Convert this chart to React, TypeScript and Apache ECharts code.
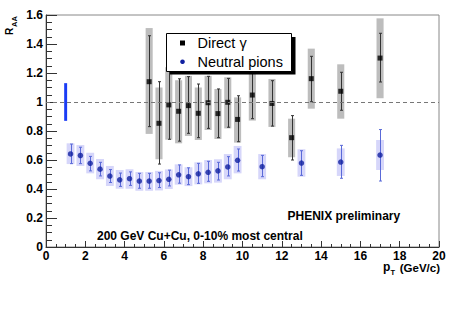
import React, { useEffect, useRef } from "react";
import * as echarts from "echarts";

// ---- Data ----
const gammaPt = [5.25, 5.75, 6.25, 6.75, 7.25, 7.75, 8.25, 8.75, 9.25, 9.75, 10.5, 11.5, 12.5, 13.5, 15, 17];
const gammaR = [1.14, 0.853, 0.98, 0.936, 0.975, 0.922, 0.995, 0.92, 0.998, 0.88, 1.048, 0.99, 0.754, 1.161, 1.074, 1.303];
const gammaStatLo = [0.83, 0.572, 0.743, 0.73, 0.784, 0.754, 0.818, 0.754, 0.826, 0.726, 0.885, 0.834, 0.6, 1.002, 0.943, 1.138];
const gammaStatHi = [1.457, 1.14, 1.22, 1.16, 1.175, 1.124, 1.177, 1.09, 1.163, 1.043, 1.21, 1.147, 0.906, 1.315, 1.205, 1.474];
const gammaSysLo = [0.78, 0.605, 0.74, 0.715, 0.766, 0.738, 0.807, 0.745, 0.818, 0.72, 0.872, 0.828, 0.619, 0.954, 0.885, 1.026];
const gammaSysHi = [1.51, 1.1, 1.24, 1.15, 1.18, 1.1, 1.18, 1.09, 1.17, 1.032, 1.225, 1.159, 0.885, 1.368, 1.26, 1.577];

const piPt = [1.25, 1.75, 2.25, 2.75, 3.25, 3.75, 4.25, 4.75, 5.25, 5.75, 6.25, 6.75, 7.25, 7.75, 8.25, 8.75, 9.25, 9.75, 11, 13, 15, 17];
const piR = [0.642, 0.631, 0.577, 0.537, 0.489, 0.463, 0.471, 0.455, 0.455, 0.458, 0.467, 0.498, 0.485, 0.505, 0.515, 0.525, 0.552, 0.598, 0.554, 0.579, 0.586, 0.634];
const piStatLo = [0.575, 0.575, 0.525, 0.49, 0.445, 0.418, 0.425, 0.405, 0.405, 0.41, 0.421, 0.44, 0.43, 0.439, 0.453, 0.462, 0.49, 0.524, 0.485, 0.494, 0.474, 0.455];
const piStatHi = [0.71, 0.688, 0.625, 0.584, 0.534, 0.51, 0.518, 0.508, 0.508, 0.512, 0.53, 0.566, 0.546, 0.577, 0.591, 0.584, 0.623, 0.676, 0.632, 0.664, 0.701, 0.81];
const piSysLo = [0.572, 0.559, 0.508, 0.467, 0.421, 0.402, 0.402, 0.388, 0.388, 0.39, 0.4, 0.43, 0.42, 0.432, 0.439, 0.444, 0.467, 0.508, 0.467, 0.485, 0.49, 0.531];
const piSysHi = [0.715, 0.703, 0.65, 0.607, 0.559, 0.531, 0.536, 0.517, 0.517, 0.525, 0.535, 0.57, 0.55, 0.584, 0.6, 0.605, 0.641, 0.697, 0.641, 0.674, 0.68, 0.738];

// normalization uncertainty bar at pT = 1
const normPt = [1];
const normLo = [0.87];
const normHi = [1.13];

const legendNames = ["Direct γ", "Neutral pions"];

const xTicks = { min: 0, max: 20, interval: 2 };
const yTicks = { min: 0, max: 1.6, interval: 0.2 };

const FONT = "'Liberation Sans', Arial, Helvetica, sans-serif";
const PI_COLOR = "#1020a0";

function boxSeries(xs: number[], lo: number[], hi: number[], halfW: number, color: string, z: number, extra: any = {}) {
  return {
    type: "custom",
    z,
    silent: true,
    data: xs.map((x, i) => [x, lo[i], hi[i]]),
    encode: { x: 0, y: [1, 2] },
    renderItem: (params: any, api: any) => {
      const x = api.value(0);
      const p1 = api.coord([x - halfW, api.value(2)]);
      const p2 = api.coord([x + halfW, api.value(1)]);
      return {
        type: "rect",
        shape: { x: p1[0], y: p1[1], width: p2[0] - p1[0], height: p2[1] - p1[1] },
        style: { fill: color },
      };
    },
    ...extra,
  };
}

function errSeries(xs: number[], lo: number[], hi: number[], color: string, z: number) {
  return {
    type: "custom",
    z,
    silent: true,
    data: xs.map((x, i) => [x, lo[i], hi[i]]),
    encode: { x: 0, y: [1, 2] },
    renderItem: (params: any, api: any) => {
      const x = api.value(0);
      const top = api.coord([x, api.value(2)]);
      const bot = api.coord([x, api.value(1)]);
      const cx = Math.round(top[0]) + 0.5;
      const style = { stroke: color, lineWidth: 1 };
      return {
        type: "group",
        children: [
          { type: "line", shape: { x1: cx, y1: top[1], x2: cx, y2: bot[1] }, style },
          { type: "line", shape: { x1: cx - 1.5, y1: top[1], x2: cx + 1.5, y2: top[1] }, style },
          { type: "line", shape: { x1: cx - 1.5, y1: bot[1], x2: cx + 1.5, y2: bot[1] }, style },
        ],
      };
    },
  };
}

export default function App() {
  const ref = useRef<HTMLDivElement>(null);
  useEffect(() => {
    if (!ref.current) return;
    const chart = echarts.init(ref.current, null, { renderer: "svg" });
    const labelStyle = { fontFamily: FONT, fontWeight: "bold" as const, fontSize: 12, color: "#000" };
    const txt = (text: string, x: number, y: number, size: number, bold: boolean, align: string, extra: any = {}) => ({
      type: "text",
      x,
      y,
      z: 12,
      style: { text, fontFamily: FONT, fontSize: size, fontWeight: bold ? "bold" : "normal", fill: "#000", align, verticalAlign: "middle" },
      ...extra,
    });
    const option: any = {
      animation: false,
      backgroundColor: "#fff",
      grid: { left: 46, right: 24, top: 15, bottom: 67, show: true, borderColor: "#888", borderWidth: 1, backgroundColor: "transparent" },
      xAxis: {
        type: "value",
        min: xTicks.min,
        max: xTicks.max,
        interval: xTicks.interval,
        axisLine: { lineStyle: { color: "#333", width: 1 } },
        axisTick: { inside: true, length: 6, lineStyle: { color: "#333" } },
        minorTick: { show: true, splitNumber: 4, length: 3, lineStyle: { color: "#333" } },
        splitLine: { show: false },
        axisLabel: { ...labelStyle, margin: 3 },
      },
      yAxis: {
        type: "value",
        min: yTicks.min,
        max: yTicks.max,
        interval: yTicks.interval,
        axisLine: { show: true, lineStyle: { color: "#333", width: 1 } },
        axisTick: { show: true, inside: true, length: 11, lineStyle: { color: "#333" } },
        minorTick: { show: true, splitNumber: 4, length: 6, lineStyle: { color: "#333" } },
        splitLine: { show: false },
        axisLabel: { ...labelStyle, margin: 3 },
      },
      legend: { show: false, data: legendNames },
      graphic: [
        // legend box with ROOT-style shadow
        { type: "rect", z: 10, shape: { x: 170, y: 37, width: 125.5, height: 37.5 }, style: { fill: "#000" } },
        { type: "rect", z: 11, shape: { x: 166.5, y: 33.5, width: 125, height: 38 }, style: { fill: "#fff", stroke: "#000", lineWidth: 1 } },
        { type: "rect", z: 12, shape: { x: 180, y: 40.5, width: 5, height: 5 }, style: { fill: "#000" } },
        { type: "circle", z: 12, shape: { cx: 182.5, cy: 61.8, r: 2.3 }, style: { fill: PI_COLOR } },
        txt(legendNames[0], 197.5, 43, 14.5, false, "left"),
        txt(legendNames[1], 197.5, 62, 14.5, false, "left"),
        // axis titles
        txt("R", 9, 31.5, 10, true, "center", { rotation: Math.PI / 2 }),
        txt("AA", 14.5, 21.5, 7.5, true, "center", { rotation: Math.PI / 2 }),
        txt("(GeV/c)", 440, 268, 11.5, true, "right"),
        txt("p", 383, 267, 12, true, "left"),
        txt("T", 390.5, 272.5, 7.5, true, "left"),
        // annotations
        txt("200 GeV Cu+Cu, 0-10% most central", 97, 235.5, 12, true, "left"),
        txt("PHENIX preliminary", 287.5, 215.5, 12, true, "left"),
      ],
      series: [
        boxSeries(piPt, piSysLo, piSysHi, 0.2, "#d6d6fa", 1, {
          markLine: {
            silent: true,
            symbol: ["none", "none"],
            label: { show: false },
            lineStyle: { color: "#777", width: 1, type: [4, 3] },
            data: [{ yAxis: 1 }],
          },
        }),
        boxSeries(gammaPt, gammaSysLo, gammaSysHi, 0.18, "#bdbdbd", 1),
        boxSeries(normPt, normLo, normHi, 0.075, "#1a3cf5", 2),
        errSeries(piPt, piStatLo, piStatHi, "#5a6ad8", 2),
        errSeries(gammaPt, gammaStatLo, gammaStatHi, "#333", 2),
        {
          name: legendNames[0],
          type: "scatter",
          z: 3,
          symbol: "rect",
          symbolSize: 5,
          itemStyle: { color: "#000" },
          data: gammaPt.map((x, i) => [x, gammaR[i]]),
        },
        {
          name: legendNames[1],
          type: "scatter",
          z: 3,
          symbol: "circle",
          symbolSize: 5.5,
          itemStyle: { color: PI_COLOR },
          data: piPt.map((x, i) => [x, piR[i]]),
        },
      ],
    };
    chart.setOption(option);
    return () => chart.dispose();
  }, []);
  return <div ref={ref} style={{ position: "fixed", left: 0, top: 0, width: 463, height: 314 }} />;
}
